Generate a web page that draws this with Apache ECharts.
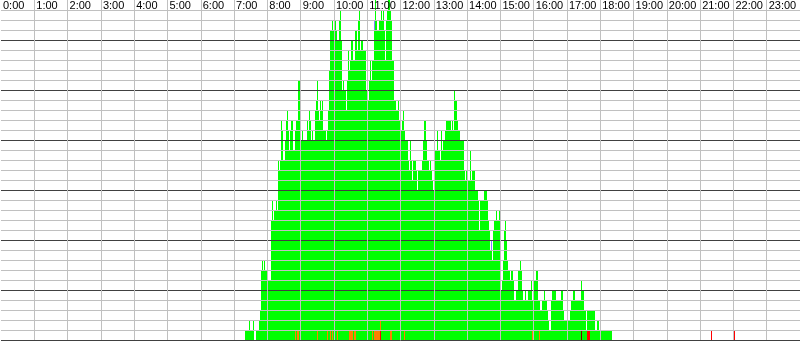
<!DOCTYPE html>
<html>
<head>
<meta charset="utf-8">
<title>Daily activity</title>
<script src="https://cdn.jsdelivr.net/npm/echarts/dist/echarts.min.js"></script>
<style>
  html, body { margin: 0; padding: 0; background: #fff; }
  #main { width: 800px; height: 341px; }
</style>
</head>
<body>
<div id="main"></div>
<script>
// the day is split into 800 slots (1 slot = 1.8 min)
var SLOTS = 800;
var hourLabels = ['0:00', '1:00', '2:00', '3:00', '4:00', '5:00', '6:00', '7:00', '8:00', '9:00', '10:00', '11:00',
  '12:00', '13:00', '14:00', '15:00', '16:00', '17:00', '18:00', '19:00', '20:00', '21:00', '22:00', '23:00'];

// green counts, starting at slot 244 (~7:19)
var firstSlot = 244;
var greenCounts = [
  1, 1, 1, 1, 2, 1, 1, 1, 2, 0,
  0, 1, 1, 1, 2, 3, 7, 8, 7, 8,
  7, 7, 6, 6, 6, 6, 12, 14, 12, 13,
  13, 14, 13, 18, 17, 18, 22, 21, 18, 18,
  20, 22, 23, 21, 19, 21, 22, 22, 19, 19,
  21, 22, 22, 26, 26, 25, 20, 21, 20, 20,
  20, 20, 22, 21, 23, 22, 20, 21, 20, 20,
  23, 24, 26, 23, 22, 24, 23, 24, 21, 21,
  21, 20, 21, 23, 27, 31, 31, 32, 31, 31,
  32, 31, 30, 30, 32, 33, 30, 25, 26, 25,
  25, 23, 26, 29, 27, 28, 30, 30, 28, 28,
  31, 31, 29, 32, 33, 29, 30, 30, 29, 29,
  29, 25, 24, 24, 26, 28, 26, 28, 28, 32,
  34, 32, 31, 31, 32, 32, 33, 32, 33, 31,
  28, 32, 33, 34, 34, 33, 32, 28, 28, 24,
  24, 23, 23, 24, 22, 21, 20, 21, 22, 23,
  21, 20, 20, 20, 18, 17, 20, 18, 16, 18,
  18, 18, 17, 15, 17, 17, 17, 17, 18, 20,
  22, 22, 20, 18, 18, 17, 18, 17, 16, 15,
  15, 19, 19, 21, 19, 19, 18, 21, 19, 20,
  20, 21, 22, 22, 22, 22, 22, 21, 22, 21,
  25, 24, 24, 22, 21, 21, 20, 20, 20, 20,
  17, 16, 17, 15, 16, 16, 19, 16, 17, 17,
  17, 15, 15, 15, 14, 11, 14, 14, 14, 14,
  15, 15, 15, 14, 12, 11, 9, 10, 8, 11,
  12, 12, 13, 12, 12, 13, 5, 5, 6, 8,
  11, 12, 10, 8, 7, 7, 6, 7, 7, 6,
  4, 4, 5, 5, 7, 7, 8, 7, 5, 4,
  4, 5, 4, 4, 5, 5, 5, 6, 4, 4,
  6, 6, 7, 7, 4, 4, 3, 3, 4, 4,
  5, 4, 4, 3, 2, 1, 1, 4, 5, 5,
  5, 5, 4, 4, 4, 4, 4, 5, 5, 3,
  2, 2, 2, 2, 2, 2, 3, 4, 4, 5,
  5, 4, 4, 4, 4, 4, 4, 6, 5, 5,
  3, 3, 1, 3, 3, 3, 3, 3, 3, 3,
  3, 1, 1, 2, 2, 1, 1, 1, 1, 1,
  1, 1, 1, 1, 1, 1, 1, 1
];

// [slot, count] marks drawn over the green bars
var orangeMarks = [[294, 1], [296, 1], [297, 1], [316, 1], [326, 1], [329, 1], [331, 1], [336, 1],
  [348, 1], [349, 1], [350, 1], [351, 1], [353, 1], [354, 1], [371, 1], [373, 1], [374, 1], [375, 1],
  [376, 1], [377, 1], [378, 1], [379, 2], [389, 1], [390, 1], [404, 1], [532, 1], [539, 1]];
var redMarks = [[379, 1], [587, 1], [588, 1], [589, 1], [711, 1], [734, 1]];
var darkMarks = [[581, 1]];
// [slot, level] single top cells in blue
var blueMarks = [[373, 32], [491, 10]];

var slotNames = [];
for (var i = 0; i < SLOTS; i++) slotNames.push(String(i));

var greenData = greenCounts.map(function (v, i) { return [firstSlot + i, v, 0]; });
function marksToData(marks) {
  return marks.map(function (m) { return [m[0], m[1], 0]; });
}
var blueData = blueMarks.map(function (m) { return [m[0], m[1], m[1] - 1]; });

// one column per slot, snapped to whole pixels
function columnSeries(data, color) {
  return {
    type: 'custom',
    xAxisIndex: 1,
    data: data,
    encode: { x: 0, y: [1, 2] },
    renderItem: function (params, api) {
      var top = api.coord([api.value(0), api.value(1)]);
      var base = api.coord([api.value(0), api.value(2)]);
      var w = api.size([1, 0])[0];
      var x = Math.round(top[0] - w / 2);
      var y0 = Math.round(top[1]);
      var y1 = Math.round(base[1]);
      return {
        type: 'rect',
        shape: { x: x, y: y0, width: Math.max(1, Math.round(w)), height: y1 - y0 },
        style: { fill: color }
      };
    }
  };
}

var hourLineColors = [];
for (var h = 0; h <= 24; h++) hourLineColors.push(h === 0 ? 'rgba(0,0,0,0)' : '#c0c0c0');
var rowLineColors = [];
for (var k = 0; k <= 34; k++) rowLineColors.push(k === 34 ? 'rgba(0,0,0,0)' : (k % 5 === 0 ? '#404040' : '#c0c0c0'));

var chart = echarts.init(document.getElementById('main'), null, { renderer: 'canvas' });

var option = {
  animation: false,
  backgroundColor: '#ffffff',
  grid: { left: 0, right: 0, top: 0, bottom: 1 },
  xAxis: [{
    type: 'value',
    min: 0,
    max: 24,
    interval: 1,
    position: 'top',
    z: 10,
    axisLine: { show: false },
    axisTick: { show: false },
    axisLabel: {
      inside: true,
      margin: 0,
      align: 'left',
      padding: [0, 0, 0, 2],
      color: '#000',
      fontSize: 11,
      fontFamily: 'Liberation Sans, Arial, sans-serif',
      showMaxLabel: false,
      formatter: function (v) { return hourLabels[v] || ''; }
    },
    splitLine: { show: true, lineStyle: { color: hourLineColors, width: 1 } }
  }, {
    type: 'category',
    data: slotNames,
    show: false,
    boundaryGap: true
  }],
  yAxis: {
    type: 'value',
    min: 0,
    max: 34,
    interval: 1,
    z: 10,
    axisLine: { show: false },
    axisTick: { show: false },
    axisLabel: { show: false },
    splitLine: { show: true, lineStyle: { color: rowLineColors, width: 1 } }
  },
  series: [
    columnSeries(greenData, '#00ff00'),
    columnSeries(blueData, '#8080ff'),
    columnSeries(marksToData(orangeMarks), '#ff8000'),
    columnSeries(marksToData(redMarks), '#ff0000'),
    columnSeries(marksToData(darkMarks), '#800000')
  ]
};

chart.setOption(option);
</script>
</body>
</html>
